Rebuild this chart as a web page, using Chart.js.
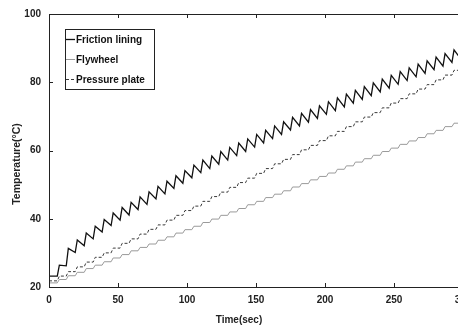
<!DOCTYPE html>
<html>
<head>
<meta charset="utf-8">
<title>Temperature vs time</title>
<script src="https://cdn.jsdelivr.net/npm/chart.js@4.4.1/dist/chart.umd.min.js"></script>
<style>
  html, body { margin: 0; padding: 0; background: #fff; overflow: hidden; }
  canvas { display: block; }
</style>
</head>
<body>
<canvas id="tempChart" width="490" height="329"></canvas>
<script>
// engagement events (s) shared by all three parts
const eventTimes = [
  6, 12.5, 19, 25.5, 32, 38.5, 45, 51.5, 58, 64.5, 71, 77.5, 84, 90.5, 97, 103.5,
  110, 116.5, 123, 129.5, 136, 142.5, 149, 155.5, 162, 168.5, 175, 181.5, 188, 194.5,
  201, 207.5, 214, 220.5, 227, 233.5, 240, 246.5, 253, 259.5, 266, 272.5, 279, 285.5,
  292, 298.5
];

// friction lining: value at each event and the peak right after it
const frictionStart = 23.2;
const frictionLow = [
  23.2, 26.2, 30.1, 32.1, 34.1, 36.1, 38.0, 39.6, 41.1, 42.7, 44.2, 45.8, 47.3, 48.9,
  50.4, 52.0, 53.5, 54.7, 56.0, 57.2, 58.5, 59.7, 61.0, 62.2, 63.5, 64.7, 66.0, 67.2,
  68.3, 69.4, 70.6, 71.7, 72.8, 73.9, 75.0, 76.1, 77.2, 78.3, 79.4, 80.5, 81.6, 82.6,
  83.7, 84.7, 85.8, 86.8
];
const frictionHigh = [
  26.4, 31.3, 33.8, 35.8, 37.8, 39.8, 41.7, 43.3, 44.8, 46.4, 47.9, 49.5, 51.0, 52.6,
  54.1, 55.7, 57.2, 58.4, 59.7, 60.9, 62.2, 63.4, 64.7, 65.9, 67.2, 68.4, 69.7, 70.9,
  72.0, 73.1, 74.3, 75.4, 76.5, 77.6, 78.7, 79.8, 80.9, 82.0, 83.1, 84.2, 85.3, 86.3,
  87.4, 88.4, 89.5, 90.5
];

// flywheel and pressure plate: level held between events (first = t 0)
const flywheelLevels = [
  21.2, 22.2, 23.3, 24.3, 25.4, 26.4, 27.4, 28.5, 29.5, 30.6, 31.6, 32.6, 33.7, 34.7,
  35.8, 36.8, 37.8, 38.9, 39.9, 41.0, 42.0, 43.0, 44.1, 45.1, 46.2, 47.2, 48.2, 49.3,
  50.3, 51.4, 52.4, 53.4, 54.5, 55.5, 56.6, 57.6, 58.6, 59.7, 60.7, 61.8, 62.8, 63.8,
  64.9, 65.9, 67.0, 68.0, 69.0
];
const plateLevels = [
  21.8, 23.2, 24.5, 25.9, 27.3, 28.7, 30.0, 31.4, 32.8, 34.1, 35.5, 36.9, 38.2, 39.6,
  41.0, 42.4, 43.7, 45.1, 46.5, 47.8, 49.2, 50.6, 51.9, 53.3, 54.7, 56.1, 57.4, 58.8,
  60.2, 61.5, 62.9, 64.3, 65.6, 67.0, 68.4, 69.8, 71.1, 72.5, 73.9, 75.2, 76.6, 78.0,
  79.3, 80.7, 82.1, 83.5, 84.8
];

const seriesNames = ["Friction lining", "Flywheel", "Pressure plate"];
const xTicks = [0, 50, 100, 150, 200, 250, 300];
const yTicks = [20, 40, 60, 80, 100];

const RISE = 1.5; // seconds a heating burst takes

function frictionPoints() {
  const pts = [{ x: 0, y: frictionStart }];
  eventTimes.forEach((t, i) => {
    pts.push({ x: t, y: frictionLow[i] });
    pts.push({ x: t + RISE, y: frictionHigh[i] });
  });
  return pts;
}

function stepPoints(levels) {
  const pts = [{ x: 0, y: levels[0] }];
  eventTimes.forEach((t, i) => {
    pts.push({ x: t, y: levels[i] });
    pts.push({ x: t + RISE, y: levels[i + 1] });
  });
  return pts;
}

const narrow = '"Liberation Sans Narrow", "Liberation Sans", Arial, sans-serif';
const wide = '"Liberation Sans", Arial, sans-serif';

// frame with inward ticks, axis titles and the boxed legend
const framePlugin = {
  id: "frame",
  afterDraw(chart) {
    const { ctx, chartArea: a, scales } = chart;
    const x = scales.x, y = scales.y;
    ctx.save();
    ctx.strokeStyle = "#222";
    ctx.lineWidth = 1;
    ctx.strokeRect(a.left + 0.5, a.top + 0.5, a.right - a.left, a.bottom - a.top);

    ctx.beginPath();
    xTicks.forEach((v) => {
      const px = Math.round(x.getPixelForValue(v)) + 0.5;
      ctx.moveTo(px, a.bottom);
      ctx.lineTo(px, a.bottom - 4);
      ctx.moveTo(px, a.top);
      ctx.lineTo(px, a.top + 4);
    });
    yTicks.forEach((v) => {
      const py = Math.round(y.getPixelForValue(v)) + 0.5;
      ctx.moveTo(a.left, py);
      ctx.lineTo(a.left + 4, py);
      ctx.moveTo(a.right, py);
      ctx.lineTo(a.right - 4, py);
    });
    ctx.stroke();

    // axis titles
    ctx.fillStyle = "#222";
    ctx.textAlign = "center";
    ctx.textBaseline = "middle";
    ctx.font = "bold 10px " + wide;
    ctx.fillText("Time(sec)", 239, 320);
    ctx.translate(17, 164);
    ctx.rotate(-Math.PI / 2);
    ctx.font = "bold 10.5px " + wide;
    ctx.fillText("Temperature(\u00B0C)", 0, 0);
    ctx.setTransform(1, 0, 0, 1, 0, 0);

    // legend
    const lx = 65, ly = 29, lw = 89, lh = 60;
    ctx.fillStyle = "#fff";
    ctx.fillRect(lx, ly, lw, lh);
    ctx.strokeStyle = "#222";
    ctx.strokeRect(lx + 0.5, ly + 0.5, lw, lh);
    ctx.font = "bold 10px " + narrow;
    ctx.textAlign = "left";
    chart.data.datasets.forEach((ds, i) => {
      const rowY = ly + 10.5 + i * 20;
      ctx.beginPath();
      ctx.strokeStyle = ds.borderColor;
      ctx.lineWidth = ds.borderWidth;
      ctx.setLineDash(ds.borderDash || []);
      ctx.moveTo(lx + 1, rowY);
      ctx.lineTo(lx + 10, rowY);
      ctx.stroke();
      ctx.setLineDash([]);
      ctx.fillStyle = "#111";
      ctx.fillText(ds.label, lx + 11, rowY + 0.5);
    });
    ctx.restore();
  },
};

document.addEventListener("DOMContentLoaded", () => {
  const canvas = document.getElementById("tempChart");

  new Chart(canvas, {
    type: "line",
    data: {
      datasets: [
        {
          label: seriesNames[0],
          data: frictionPoints(),
          borderColor: "#111",
          borderWidth: 1.3,
        },
        {
          label: seriesNames[1],
          data: stepPoints(flywheelLevels),
          borderColor: "#9a9a9a",
          borderWidth: 1,
        },
        {
          label: seriesNames[2],
          data: stepPoints(plateLevels),
          borderColor: "#3a3a3a",
          borderWidth: 1,
          borderDash: [3, 2],
        },
      ],
    },
    options: {
      responsive: false,
      animation: false,
      events: [],
      parsing: false,
      elements: {
        point: { radius: 0 },
        line: { tension: 0, fill: false },
      },
      layout: { padding: { top: 12, right: 27, bottom: 0, left: 0 } },
      plugins: {
        legend: { display: false },
        tooltip: { enabled: false },
      },
      scales: {
        x: {
          type: "linear",
          min: 0,
          max: 300,
          afterFit: (s) => { s.height = 42; },
          afterBuildTicks: (s) => { s.ticks = xTicks.map((v) => ({ value: v })); },
          grid: { display: false, drawTicks: false },
          border: { display: false },
          ticks: {
            padding: 7,
            color: "#222",
            font: { family: narrow, size: 10, weight: "bold" },
          },
        },
        y: {
          min: 20,
          max: 100,
          afterFit: (s) => { s.width = 49; },
          afterBuildTicks: (s) => { s.ticks = yTicks.map((v) => ({ value: v })); },
          grid: { display: false, drawTicks: false },
          border: { display: false },
          ticks: {
            padding: 8,
            color: "#222",
            font: { family: narrow, size: 10, weight: "bold" },
          },
        },
      },
    },
    plugins: [framePlugin],
  });
});
</script>
</body>
</html>
